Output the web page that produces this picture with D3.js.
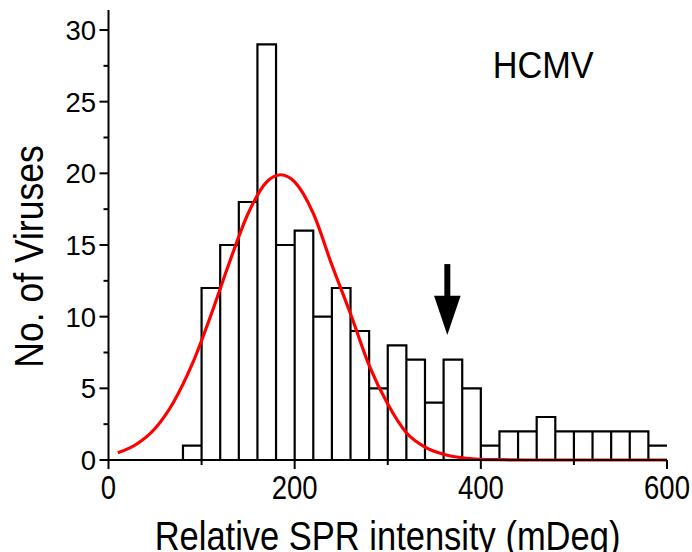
<!DOCTYPE html>
<html><head><meta charset="utf-8">
<script src="https://cdn.jsdelivr.net/npm/d3@7"></script>
<style>body{margin:0;background:#fff}svg{display:block}text{font-family:"Liberation Sans",Arial,sans-serif;fill:#000}</style>
</head><body>
<script>
// Histogram bins (left edges, width 20) and counts
const binStarts = [80,100,120,140,160,180,200,220,240,260,280,300,320,340,360,380,400,420,440,460,480,500,520,540,560,580];
const counts    = [1,12,15,18,29,15,16,10,12,9,5,8,7,4,7,5,1,2,2,3,2,2,2,2,2,1];
const binWidth = 20;
// Fitted curve
const fitX = [10,30,50,70,90,110,130,150,170,185,200,220,240,260,280,300,320,340,360,380,400,420,450,500,600];
const fitY = [0.5,1.1,2.2,4.05,6.7,10.1,13.8,17.2,19.4,19.9,19.4,17.2,13.6,10.2,6.6,3.9,1.9,0.9,0.4,0.15,0.05,0.02,0,0,0];
const xTicks = [0,100,200,300,400,500,600];
const xLabels = [0,200,400,600];
const yTicks = [0,2.5,5,7.5,10,12.5,15,17.5,20,22.5,25,27.5,30];
const yLabels = [0,5,10,15,20,25,30];
const arrowAt = {x:364, top:13.67, tip:8.72};

const W=692,H=552;
const svg=d3.select("body").append("svg").attr("width",W).attr("height",H);
const x=d3.scaleLinear().domain([0,600]).range([108.5,667]);
const y=d3.scaleLinear().domain([0,30]).range([460,30]);

function txt(str,tx,ty,size,sx,sy,anchor,rot){
  svg.append("text")
    .attr("transform",`translate(${tx},${ty})${rot?` rotate(${rot})`:""} scale(${sx},${sy})`)
    .attr("text-anchor",anchor).attr("font-size",size).text(str);
}

// histogram path
let p=d3.path();
binStarts.forEach((b,i)=>{
  p.moveTo(x(b),y(0)); p.lineTo(x(b),y(counts[i])); p.lineTo(x(b+binWidth),y(counts[i]));
  if(i<binStarts.length-1) p.lineTo(x(b+binWidth),y(0));
});
svg.append("path").attr("d",p.toString()).attr("fill","none").attr("stroke","#000").attr("stroke-width",2.2);

// fit curve
const line=d3.line().x((d,i)=>x(fitX[i])).y((d,i)=>y(fitY[i])).curve(d3.curveMonotoneX);
svg.append("path").attr("d",line(fitX)).attr("fill","none").attr("stroke","#ff0000").attr("stroke-width",3.2);

// axes
const ax=svg.append("g");
ax.append("line").attr("x1",x(0)).attr("x2",x(600)).attr("y1",y(0)).attr("y2",y(0)).attr("stroke","#000").attr("stroke-width",2);
ax.append("line").attr("x1",x(0)).attr("x2",x(0)).attr("y1",y(0)).attr("y2",10).attr("stroke","#000").attr("stroke-width",2);
xTicks.forEach(t=>{
  const major=xLabels.includes(t);
  ax.append("line").attr("x1",x(t)).attr("x2",x(t)).attr("y1",y(0)).attr("y2",y(0)+(major?9:5)).attr("stroke","#000").attr("stroke-width",2);
});
xLabels.forEach(t=>txt(t,x(t),498.5,27.5,1,1.2,"middle"));
yTicks.forEach(t=>{
  const major=yLabels.includes(t);
  ax.append("line").attr("x1",x(0)-(major?9:5)).attr("x2",x(0)).attr("y1",y(t)).attr("y2",y(t)).attr("stroke","#000").attr("stroke-width",2);
});
yLabels.forEach(t=>{
  svg.append("text").attr("x",96).attr("y",y(t)).attr("dy","0.36em").attr("text-anchor","end").attr("font-size",27.5).text(t);
});
txt("Relative SPR intensity (mDeg)",387.5,550,34.5,1,1.19,"middle");
txt("No. of Viruses",42.7,256.5,35.5,1,1.16,"middle",-90);
txt("HCMV",492.7,78,34.3,1,1.09,"start");

// arrow
const ax0=x(arrowAt.x), yt=y(arrowAt.top), yp=y(arrowAt.tip);
const headLen=39.3, headHalf=13.3;
svg.append("line").attr("x1",ax0).attr("x2",ax0).attr("y1",yt).attr("y2",yp-headLen+2).attr("stroke","#000").attr("stroke-width",6);
svg.append("path").attr("d",`M${ax0-headHalf},${yp-headLen}L${ax0+headHalf},${yp-headLen}L${ax0},${yp}Z`).attr("fill","#000");
</script>
</body></html>
